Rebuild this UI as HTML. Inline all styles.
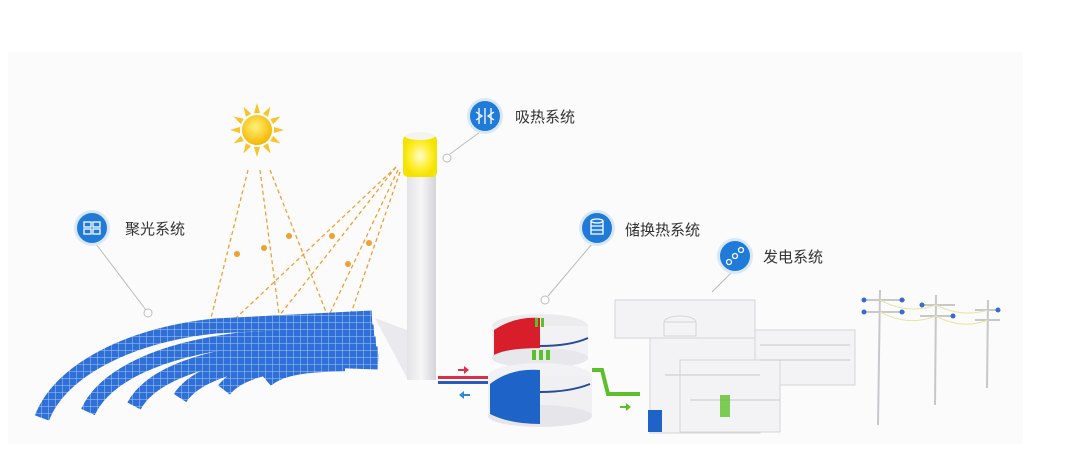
<!DOCTYPE html>
<html><head><meta charset="utf-8"><style>
html,body{margin:0;padding:0;background:#fff;}
svg{display:block}
text{font-family:"Liberation Sans","Noto Sans CJK SC",sans-serif;}
</style></head><body>
<svg width="1065" height="451" viewBox="0 0 1065 451" xmlns="http://www.w3.org/2000/svg">
<defs>
<radialGradient id="sun" cx="0.45" cy="0.4" r="0.6"><stop offset="0" stop-color="#fff27a"/><stop offset="1" stop-color="#f7b500"/></radialGradient>
<linearGradient id="tw" x1="0" x2="1"><stop offset="0" stop-color="#e4e4e6"/><stop offset="0.5" stop-color="#f6f6f7"/><stop offset="1" stop-color="#d4d4d8"/></linearGradient>
<radialGradient id="glow" cx="0.5" cy="0.5" r="0.5"><stop offset="0" stop-color="#fffbd0"/><stop offset="0.6" stop-color="#ffee33"/><stop offset="1" stop-color="#f4e200"/></radialGradient>
<pattern id="pan" width="7" height="7" patternUnits="userSpaceOnUse"><rect width="7" height="7" fill="#2f6fd8"/><path d="M0 0H7V7" fill="none" stroke="#a8c8f4" stroke-width="1"/></pattern>
</defs>
<rect x="0" y="0" width="1065" height="451" fill="#fff"/>
<rect x="8" y="52" width="1015" height="392" fill="#fbfbfc"/>

<!-- light rays -->
<g stroke="#f0a030" stroke-width="1.3" stroke-dasharray="4,3" fill="none">
<line x1="248" y1="170" x2="208" y2="330"/>
<line x1="260" y1="170" x2="280" y2="322"/>
<line x1="270" y1="170" x2="330" y2="322"/>
<line x1="396" y1="167" x2="218" y2="335"/>
<line x1="396" y1="167" x2="272" y2="325"/>
<line x1="398" y1="170" x2="322" y2="330"/>
<line x1="400" y1="172" x2="348" y2="322"/>
</g>
<g fill="#f0a030">
<circle cx="237" cy="254" r="3"/><circle cx="264" cy="248" r="3"/><circle cx="289" cy="236" r="3"/>
<circle cx="332" cy="236" r="3"/><circle cx="348" cy="264" r="3"/><circle cx="369" cy="243" r="3"/>
</g>

<!-- sun -->
<g transform="translate(257,130)" fill="#f9c32a">
<g id="r"><path d="M-3 -17 L0 -27 L3 -17Z"/></g>
<use href="#r" transform="rotate(30)"/><use href="#r" transform="rotate(60)"/><use href="#r" transform="rotate(90)"/>
<use href="#r" transform="rotate(120)"/><use href="#r" transform="rotate(150)"/><use href="#r" transform="rotate(180)"/>
<use href="#r" transform="rotate(210)"/><use href="#r" transform="rotate(240)"/><use href="#r" transform="rotate(270)"/>
<use href="#r" transform="rotate(300)"/><use href="#r" transform="rotate(330)"/>
<circle r="15" fill="url(#sun)"/>
</g>

<!-- tower -->
<path d="M375 318 L407 378 L407 330Z" fill="#eaeaee"/>
<rect x="407" y="170" width="29" height="210" fill="url(#tw)"/>
<rect x="403" y="135" width="34" height="42" rx="5" fill="url(#glow)"/>
<ellipse cx="420" cy="136" rx="15" ry="4" fill="#f4f4ee"/>

<!-- heliostat field -->
<g fill="none" stroke="url(#pan)" stroke-width="15">
<path d="M42 418 C60 370 130 335 215 326 L372 318"/>
<path d="M88 412 C105 375 160 350 240 340 L374 332"/>
<path d="M134 406 C150 376 200 358 268 350 L376 344"/>
<path d="M180 398 C195 375 235 362 296 356 L378 354"/>
<path d="M224 390 C238 372 270 364 322 360 L378 362"/>
<path d="M266 380 C280 368 305 364 345 364"/>
</g>

<!-- tanks -->
<ellipse cx="540" cy="326" rx="48" ry="12" fill="#ececef"/>
<rect x="492" y="326" width="96" height="32" fill="#f2f2f4"/>
<path d="M494 330 Q515 316 540 318 L540 356 L494 356Z" fill="#d81e2a"/>
<ellipse cx="540" cy="358" rx="48" ry="10" fill="#e8e8ec"/>
<ellipse cx="540" cy="376" rx="52" ry="13" fill="#f2f2f4"/>
<rect x="488" y="376" width="104" height="40" fill="#f0f0f2"/>
<ellipse cx="540" cy="416" rx="52" ry="11" fill="#e6e6ea"/>
<path d="M490 384 Q510 368 540 370 L540 424 Q510 424 490 414Z" fill="#1e63c8"/>
<path d="M540 392 Q570 392 590 384" stroke="#2a4a9a" stroke-width="2" fill="none"/>
<path d="M540 346 Q570 346 588 338" stroke="#2a4a9a" stroke-width="2" fill="none"/>
<g fill="#5cc02c"><rect x="532" y="350" width="4" height="10"/><rect x="539" y="350" width="4" height="10"/><rect x="546" y="350" width="4" height="10"/><rect x="535" y="318" width="3" height="9"/><rect x="541" y="318" width="3" height="9"/></g>
<!-- pipes -->
<rect x="438" y="376" width="50" height="3" fill="#d83040"/>
<rect x="438" y="381" width="50" height="3" fill="#2a5ac0"/>
<path d="M458 369 h6 v-3 l5 4 l-5 4 v-3 h-6Z" fill="#e0304a"/>
<path d="M470 394 h-6 v-3 l-5 4 l5 4 v-3 h6Z" fill="#2a8ad8"/>
<path d="M592 370 L602 370 L608 394 L640 394" stroke="#5cc02c" stroke-width="4" fill="none"/>
<path d="M620 406 h6 v-3 l5 4 l-5 4 v-3 h-6Z" fill="#5cc02c"/>

<!-- power plant -->
<g fill="#f3f3f5" stroke="#d6d6da" stroke-width="1">
<rect x="615" y="300" width="140" height="38"/>
<rect x="650" y="338" width="110" height="95"/>
<rect x="755" y="330" width="100" height="55"/>
<rect x="680" y="360" width="100" height="72"/>
<ellipse cx="680" cy="322" rx="16" ry="6"/>
<rect x="664" y="322" width="32" height="14"/>
</g>
<g stroke="#c8c8cc" stroke-width="1">
<line x1="665" y1="375" x2="760" y2="375"/><line x1="690" y1="400" x2="780" y2="400"/>
<line x1="760" y1="345" x2="850" y2="345"/><line x1="760" y1="360" x2="850" y2="360"/>
</g>
<rect x="648" y="410" width="14" height="22" fill="#1e63c8"/>
<rect x="720" y="395" width="10" height="22" fill="#5cc02c" opacity="0.8"/>

<!-- pylons -->
<g stroke="#c8c8cc" stroke-width="2" fill="none">
<line x1="880" y1="290" x2="878" y2="425"/>
<line x1="936" y1="295" x2="935" y2="405"/>
<line x1="988" y1="300" x2="987" y2="388"/>
<line x1="862" y1="300" x2="905" y2="300"/><line x1="862" y1="312" x2="905" y2="312"/>
<line x1="920" y1="305" x2="955" y2="305"/><line x1="920" y1="316" x2="955" y2="316"/>
<line x1="975" y1="310" x2="1000" y2="310"/><line x1="975" y1="320" x2="1000" y2="320"/>
</g>
<g stroke="#e6e6a0" stroke-width="1" fill="none">
<path d="M880 300 Q908 315 936 305"/><path d="M880 312 Q908 327 936 316"/>
<path d="M936 305 Q962 318 988 310"/><path d="M936 316 Q962 330 988 320"/>
</g>
<g fill="#3a6ad0"><circle cx="864" cy="300" r="2.5"/><circle cx="902" cy="300" r="2.5"/><circle cx="864" cy="312" r="2.5"/><circle cx="902" cy="312" r="2.5"/><circle cx="922" cy="305" r="2.5"/><circle cx="953" cy="316" r="2.5"/><circle cx="998" cy="310" r="2.5"/></g>

<!-- callouts -->
<g stroke="#bbb" stroke-width="1" fill="#fff">
<line x1="96" y1="244" x2="146" y2="310"/><circle cx="148" cy="313" r="4"/>
<line x1="480" y1="132" x2="450" y2="154"/><circle cx="447" cy="158" r="4"/>
<line x1="592" y1="244" x2="548" y2="296"/><circle cx="545" cy="300" r="4"/>
<line x1="732" y1="272" x2="712" y2="292"/>
</g>
<g>
<circle cx="92" cy="228" r="18" fill="#d8e8f8"/><circle cx="92" cy="228" r="15" fill="#1f7ad8"/>
<circle cx="485" cy="116" r="18" fill="#d8e8f8"/><circle cx="485" cy="116" r="15" fill="#1f7ad8"/>
<circle cx="597" cy="228" r="18" fill="#d8e8f8"/><circle cx="597" cy="228" r="15" fill="#1f7ad8"/>
<circle cx="735" cy="256" r="18" fill="#d8e8f8"/><circle cx="735" cy="256" r="15" fill="#1f7ad8"/>
</g>
<g stroke="#fff" stroke-width="1.3" fill="none">
<rect x="84" y="222" width="7" height="5"/><rect x="93" y="222" width="7" height="5"/><rect x="84" y="229" width="7" height="5"/><rect x="93" y="229" width="7" height="5"/>
<path d="M479 108v16M485 108v16M491 108v16M476 112l6 4-6 4M494 112l-6 4 6 4"/>
<ellipse cx="597" cy="221" rx="6" ry="2"/><path d="M591 221v13h12v-13M591 226h12M591 230h12"/>
<circle cx="729" cy="262" r="2.5"/><circle cx="735" cy="256" r="2.5"/><circle cx="741" cy="250" r="2.5"/>
</g>
<g font-size="15" fill="#333">
<text x="125" y="234">聚光系统</text>
<text x="515" y="122">吸热系统</text>
<text x="625" y="235">储换热系统</text>
<text x="763" y="262">发电系统</text>
</g>
</svg>
</body></html>
